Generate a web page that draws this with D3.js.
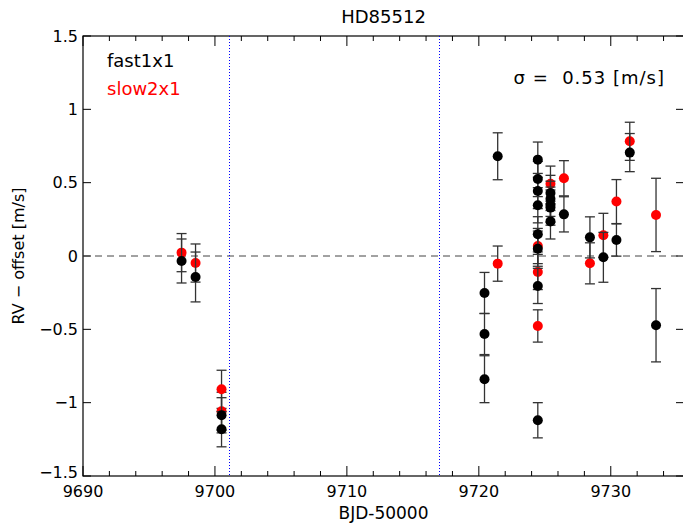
<!DOCTYPE html>
<html>
<head>
<meta charset="utf-8">
<script src="https://cdn.jsdelivr.net/npm/d3@7"></script>
<style>
  body { margin: 0; background: #fff; }
  text { font-family: "DejaVu Sans", sans-serif; }
</style>
</head>
<body>
<div id="chart"></div>
<script>
// fast1x1 series (black)
const fastX = [9697.47, 9698.53, 9700.50, 9700.50, 9720.43, 9720.43, 9720.43, 9721.43,
  9724.47, 9724.47, 9724.47, 9724.47, 9724.47, 9724.47, 9724.47, 9724.47,
  9725.43, 9725.43, 9725.43, 9725.43, 9725.43, 9726.45, 9728.42, 9729.44, 9730.43, 9731.44, 9733.43];
const fastY = [-0.034, -0.143, -1.086, -1.181, -0.252, -0.532, -0.840, 0.680,
  0.657, 0.525, 0.443, 0.346, 0.148, 0.050, -0.204, -1.120,
  0.43, 0.39, 0.35, 0.33, 0.236, 0.284, 0.127, -0.009, 0.109, 0.705, -0.472];
const fastErr = [0.15, 0.17, 0.12, 0.12, 0.14, 0.14, 0.16, 0.16,
  0.12, 0.12, 0.12, 0.12, 0.12, 0.12, 0.12, 0.12,
  0.12, 0.12, 0.12, 0.12, 0.12, 0.12, 0.14, 0.17, 0.11, 0.13, 0.25];

// slow2x1 series (red)
const slowX = [9697.47, 9698.53, 9700.50, 9700.50, 9721.43, 9724.47, 9724.47, 9724.47,
  9725.43, 9726.45, 9728.42, 9729.44, 9730.43, 9731.44, 9733.43];
const slowY = [0.023, -0.048, -0.909, -1.059, -0.052, 0.068, -0.109, -0.477,
  0.493, 0.53, -0.05, 0.141, 0.371, 0.782, 0.28];
const slowErr = [0.13, 0.13, 0.13, 0.13, 0.12, 0.12, 0.12, 0.11,
  0.12, 0.12, 0.14, 0.15, 0.15, 0.13, 0.25];

const xMajor = [9690, 9700, 9710, 9720, 9730];
const yMajor = [-1.5, -1, -0.5, 0, 0.5, 1, 1.5];
const vLines = [9701.1, 9717.0];
const legendNames = ["fast1x1", "slow2x1"];
const sigmaText = "\u03c3 =  0.53 [m/s]";

const W = 683, H = 525;
const margin = { top: 36, right: -1, bottom: 49, left: 83 };

const svg = d3.select("#chart").append("svg")
    .attr("width", W)
    .attr("height", H);

const x = d3.scaleLinear().domain([9690, 9735.55]).range([margin.left, W - margin.right]);
const y = d3.scaleLinear().domain([-1.5, 1.5]).range([H - margin.bottom, margin.top]);

const x0 = x.range()[0], x1 = x.range()[1], y0 = y.range()[0], y1 = y.range()[1];
const xc = (x0 + x1) / 2;

// frame
svg.append("rect")
    .attr("x", x0).attr("y", y1)
    .attr("width", x1 - x0).attr("height", y0 - y1)
    .style("fill", "none").style("stroke", "#000").style("stroke-width", 1.2);

// x ticks (major and minor, bottom and top, pointing inward)
const xMinor = d3.range(9690, 9736, 2);
xMinor.forEach(v => {
    let len = xMajor.includes(v) ? 10 : 5;
    svg.append("line").attr("x1", x(v)).attr("x2", x(v)).attr("y1", y0).attr("y2", y0 - len)
        .style("stroke", "#000");
    svg.append("line").attr("x1", x(v)).attr("x2", x(v)).attr("y1", y1).attr("y2", y1 + len)
        .style("stroke", "#000");
});

svg.selectAll(".xlab").data(xMajor).enter().append("text")
    .attr("class", "xlab")
    .attr("x", d => x(d))
    .attr("y", y0 + 21)
    .style("text-anchor", "middle")
    .style("font-size", "16px")
    .text(d => d);

// y ticks
yMajor.forEach(v => {
    svg.append("line").attr("x1", x0).attr("x2", x0 + 8).attr("y1", y(v)).attr("y2", y(v))
        .style("stroke", "#000");
    svg.append("line").attr("x1", x1).attr("x2", x1 - 8).attr("y1", y(v)).attr("y2", y(v))
        .style("stroke", "#000");
});

const fmt = d => d === 0 ? "0" : d3.format("")(d).replace("-", "\u2212");
svg.selectAll(".ylab").data(yMajor).enter().append("text")
    .attr("class", "ylab")
    .attr("x", x0 - 5)
    .attr("y", d => y(d))
    .attr("dominant-baseline", d => d === -1.5 ? "auto" : "central")
    .attr("dy", d => d === -1.5 ? 2 : 0)
    .style("text-anchor", "end")
    .style("font-size", "16px")
    .text(fmt);

// titles
svg.append("text")
    .attr("x", xc).attr("y", 23)
    .style("text-anchor", "middle").style("font-size", "18px")
    .text("HD85512");

svg.append("text")
    .attr("x", xc).attr("y", H - 6)
    .style("text-anchor", "middle").style("font-size", "17px")
    .text("BJD-50000");

svg.append("text")
    .attr("transform", "translate(24," + y(0) + ") rotate(-90)")
    .style("text-anchor", "middle").style("font-size", "16px")
    .text("RV \u2212 offset [m/s]");

// zero line and reference lines
svg.append("line")
    .attr("x1", x0).attr("x2", x1).attr("y1", y(0)).attr("y2", y(0))
    .style("stroke", "#444").style("stroke-dasharray", "7,5");

svg.selectAll(".vline").data(vLines).enter().append("line")
    .attr("class", "vline")
    .attr("x1", d => Math.round(x(d)) + 0.5).attr("x2", d => Math.round(x(d)) + 0.5)
    .attr("y1", y1).attr("y2", y0)
    .style("stroke", "#0000ff").style("stroke-width", 1)
    .style("stroke-dasharray", "1,2");

// series
function drawSeries(xs, ys, errs, color) {
    let pts = xs.map((v, i) => ({ x: v, y: ys[i], e: errs[i] }));
    let g = svg.append("g");
    pts.forEach(d => {
        let cx = x(d.x), top = y(d.y + d.e), bot = y(d.y - d.e);
        g.append("line").attr("x1", cx).attr("x2", cx).attr("y1", top).attr("y2", bot)
            .style("stroke", "#333").style("stroke-width", 1.3);
        [top, bot].forEach(yy => {
            g.append("line").attr("x1", cx - 5).attr("x2", cx + 5).attr("y1", yy).attr("y2", yy)
                .style("stroke", "#333").style("stroke-width", 1.3);
        });
    });
    g.selectAll("circle").data(pts).enter().append("circle")
        .attr("cx", d => x(d.x))
        .attr("cy", d => y(d.y))
        .attr("r", 5)
        .style("fill", color);
}

drawSeries(slowX, slowY, slowErr, "#ff0000");
drawSeries(fastX, fastY, fastErr, "#000000");

// legend
svg.selectAll(".leg").data(legendNames).enter().append("text")
    .attr("class", "leg")
    .attr("x", 107)
    .attr("y", (d, i) => 67 + i * 28)
    .style("font-size", "18px")
    .style("fill", (d, i) => i === 0 ? "#000" : "#ff0000")
    .text(d => d);

svg.append("text")
    .attr("x", 665).attr("y", 84)
    .attr("xml:space", "preserve")
    .style("white-space", "pre")
    .style("text-anchor", "end").style("font-size", "18px")
    .style("letter-spacing", "1px")
    .text(sigmaText);
</script>
</body>
</html>
